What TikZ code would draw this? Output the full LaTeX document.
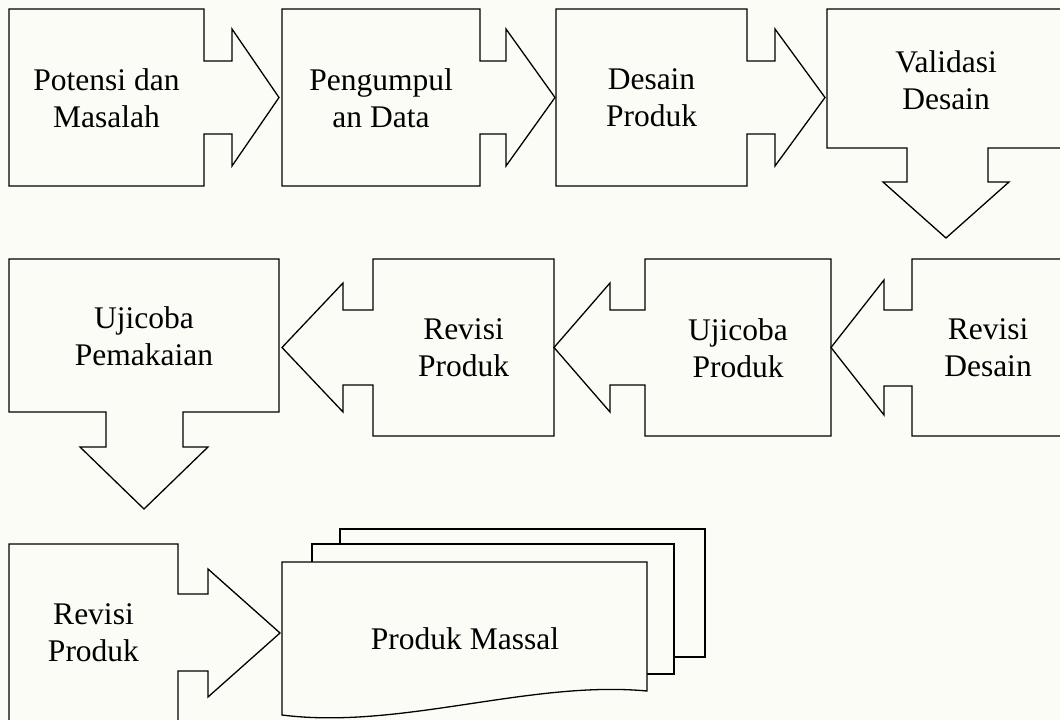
\documentclass[tikz,border=0pt]{standalone}
\usepackage{fontspec}
\setmainfont{Liberation Serif}
\definecolor{bgc}{RGB}{252,252,247}
\begin{document}
\begin{tikzpicture}[x=1pt,y=-1pt,
  shp/.style={draw=black, line width=1.3pt, line join=miter},
  lbl/.style={font=\fontsize{31.5}{37}\selectfont, align=center, text=black, inner sep=0pt}]
\useasboundingbox (0,0) rectangle (1060,720);
\fill[bgc] (0,0) rectangle (1060,720);
\clip (0,0) rectangle (1060,720);
% row 1
\draw[shp] (9,9) -- (204,9) -- (204,61) -- (232,61) -- (232,29) -- (279,97.5) -- (232,166) -- (232,134) -- (204,134) -- (204,186) -- (9,186) -- cycle;
\draw[shp] (282,9) -- (480,9) -- (480,61) -- (506,61) -- (506,29) -- (555,97.5) -- (506,166) -- (506,134) -- (480,134) -- (480,186) -- (282,186) -- cycle;
\draw[shp] (556,9) -- (747,9) -- (747,61) -- (775,61) -- (775,29) -- (825,97.5) -- (775,166) -- (775,134) -- (747,134) -- (747,186) -- (556,186) -- cycle;
\draw[shp] (827,9) -- (1065,9) -- (1065,148) -- (988,148) -- (988,182) -- (1009,182) -- (946,238) -- (883,182) -- (907,182) -- (907,148) -- (827,148) -- cycle;
% row 2
\draw[shp] (9,259) -- (279,259) -- (279,412) -- (183,412) -- (183,447) -- (208,447) -- (144,509) -- (80,447) -- (106,447) -- (106,412) -- (9,412) -- cycle;
\draw[shp] (373,259) -- (554,259) -- (554,436) -- (373,436) -- (373,385) -- (343,385) -- (343,412) -- (282,347.5) -- (343,283) -- (343,310) -- (373,310) -- cycle;
\draw[shp] (645,259) -- (831,259) -- (831,436) -- (645,436) -- (645,385) -- (610,385) -- (610,412) -- (554,347.5) -- (610,283) -- (610,310) -- (645,310) -- cycle;
\draw[shp] (912,259) -- (1065,259) -- (1065,436) -- (912,436) -- (912,386) -- (884,386) -- (884,415) -- (831,347.5) -- (884,280) -- (884,310) -- (912,310) -- cycle;
% row 3
\draw[shp] (9,544) -- (178,544) -- (178,594) -- (208,594) -- (208,569) -- (280,633) -- (208,697) -- (208,671) -- (178,671) -- (178,725) -- (9,725) -- cycle;
\filldraw[shp, fill=bgc] (340,529) -- (705,529) -- (705,657) -- (340,657) -- cycle;
\filldraw[shp, fill=bgc] (312,544) -- (674,544) -- (674,674) -- (312,674) -- cycle;
\filldraw[shp, fill=bgc] (282,562) -- (647,562) -- (647,691) .. controls (530,680) and (400,730) .. (282,715) -- cycle;
% labels
\node[lbl] (t1) at (106.5,98) {Potensi dan\\Masalah};
\node[lbl] (t2) at (381,98) {Pengumpul\\an Data};
\node[lbl] (t3) at (651.5,98) {Desain\\Produk};
\node[lbl] (t4) at (946,80) {Validasi\\Desain};
\node[lbl] (t5) at (144,336) {Ujicoba\\Pemakaian};
\node[lbl] (t6) at (463.5,348) {Revisi\\Produk};
\node[lbl] (t7) at (738,348) {Ujicoba\\Produk};
\node[lbl] (t8) at (988,348) {Revisi\\Desain};
\node[lbl] (t9) at (93.5,633) {Revisi\\Produk};
\node[lbl] (t10) at (465,639) {Produk Massal};
\end{tikzpicture}
\end{document}
